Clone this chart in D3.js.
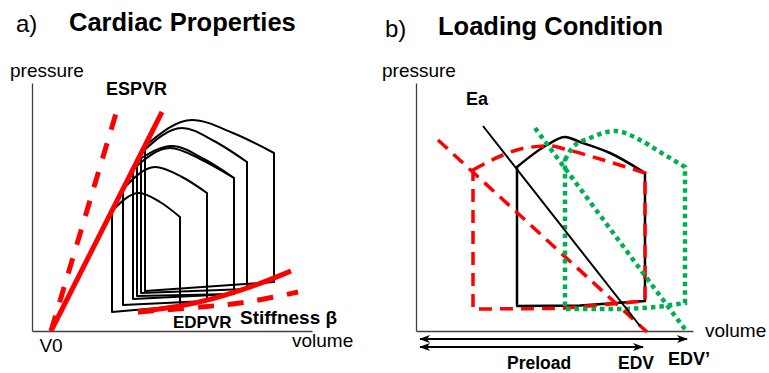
<!DOCTYPE html>
<html>
<head>
<meta charset="utf-8">
<script src="https://cdn.jsdelivr.net/npm/d3@7"></script>
<style>
  body { margin: 0; background: #fff; }
  svg { display: block; }
  text { font-family: "Liberation Sans", Arial, sans-serif; fill: #000; }
</style>
</head>
<body>
<script>
// ---- panel a: cardiac properties (volume / pressure in arbitrary units) ----
var V0 = 9.5;
var espvrSolidTop = [65, 109.5];
var espvrDashedTop = [42.5, 110.5];
var edpvrSolid = [[53, 9.5], [79, 13], [95.5, 17.5], [112.5, 23], [129.5, 30]];
var stiffnessDashed = [[53, 9.5], [79, 11.5], [99, 13.2], [114, 15.5], [133, 19.5]];

var loopESV = [40, 45.5, 50.5, 52.5, 54.5, 56.5];
var loopESP = [60, 71, 81, 85, 89, 92.5];
var loopPeak = [[53.5, 69], [61.5, 82], [69, 91.5], [70, 92.5], [75, 101.5], [80, 105.5]];
var loopShoulder = [[64, 64.5], [75, 77], [85, 85.5], [86, 86], [91, 95], [100.5, 99]];
var loopEDV = [74, 87.5, 101, 101, 107.5, 121];
var loopEDTop = [57, 69, 76.5, 76.5, 84.5, 89];
var loopBottomL = [9.5, 13, 16, 17.5, 19, 20];
var loopBottomR = [12.5, 15, 18.5, 18.5, 21, 24.5];

// ---- panel b: loading condition ----
var blackTop = [[50.5, 82], [65.5, 93], [74.5, 97], [82, 94.5], [97, 89], [114.5, 79]];
var blackBottom = [[114.5, 15], [82, 12.75], [50.5, 12.5]];
var redTop = [[28.5, 80.5], [43.5, 88], [54.5, 91.5], [67, 92.5], [76, 90.5], [98.5, 84], [114.5, 79]];
var redBottom = [[114.5, 15], [72, 11.25], [28.5, 11]];
var greenTop = [[74.5, 85.5], [78.5, 92], [87, 96.5], [99.5, 100], [112, 95.5], [122, 89.5], [134.5, 82]];
var greenBottom = [[134.5, 14], [120.5, 12], [105.5, 11], [74.5, 11]];
var eaBlack = [[33.5, 102.5], [112, 2.5]];
var eaRed = [[11, 95.5], [115.5, -0.5]];
var eaGreen = [[59.5, 101.5], [135.5, -0.5]];
var preloadEnds = [135.5, 113.5];   // EDV', EDV

const WIDTH = 769;
const HEIGHT = 373;
const RED = '#ff0000';
const GREEN = '#00b050';

var svg = d3.select('body').append('svg')
    .attr('width', WIDTH)
    .attr('height', HEIGHT);

var defs = svg.append('defs');
defs.append('marker')
    .attr('id', 'head')
    .attr('markerUnits', 'userSpaceOnUse')
    .attr('markerWidth', 11).attr('markerHeight', 8)
    .attr('refX', 10).attr('refY', 4)
    .attr('orient', 'auto-start-reverse')
    .append('path')
    .attr('d', 'M0,0L11,4L0,8L3,4Z')
    .attr('fill', '#000');

var xA = d3.scaleLinear().domain([0, 140]).range([32, 312]);
var yA = d3.scaleLinear().domain([0, 124]).range([331, 83]);
var xB = d3.scaleLinear().domain([0, 138.5]).range([416, 693]);
var yB = d3.scaleLinear().domain([0, 124]).range([331, 83]);

var drawAxes = function(x, y) {
    var gx = svg.append('g')
        .attr('transform', 'translate(0,' + y(0) + ')')
        .call(d3.axisBottom(x).tickValues([]).tickSizeOuter(0));
    var gy = svg.append('g')
        .attr('transform', 'translate(' + x(0) + ',0)')
        .call(d3.axisLeft(y).tickValues([]).tickSizeOuter(0));
    [gx, gy].forEach(function(g) {
        g.select('.domain').attr('stroke', '#404040').attr('stroke-width', 1.3);
    });
};

var lineOf = function(x, y, curve) {
    return d3.line()
        .x(function(d) { return x(d[0]); })
        .y(function(d) { return y(d[1]); })
        .curve(curve || d3.curveLinear);
};

// top edge smooth, sides and bottom straight, closed back up the ESV side
var loopPath = function(x, y, top, bottom) {
    var arc = lineOf(x, y, d3.curveMonotoneX)(top);
    var rest = lineOf(x, y)(bottom).replace('M', 'L');
    return arc + rest + 'Z';
};

var label = function(txt, px, py, size, bold, anchor) {
    svg.append('text')
        .attr('x', px).attr('y', py)
        .attr('font-size', size)
        .attr('font-weight', bold ? 'bold' : 'normal')
        .attr('text-anchor', anchor || 'start')
        .text(txt);
};

// ================= panel a =================
drawAxes(xA, yA);

var gLoops = svg.append('g');
loopESV.forEach(function(esv, i) {
    var top = [[esv, loopESP[i]], loopPeak[i], loopShoulder[i], [loopEDV[i], loopEDTop[i]]];
    var bottom = [[loopEDV[i], loopBottomR[i]], [esv, loopBottomL[i]]];
    gLoops.append('path')
        .attr('d', loopPath(xA, yA, top, bottom))
        .attr('fill', 'none')
        .attr('stroke', '#000')
        .attr('stroke-width', 2)
        .attr('stroke-linejoin', 'round');
});

svg.append('path')
    .attr('d', lineOf(xA, yA)([[V0, 0], espvrDashedTop]))
    .attr('fill', 'none').attr('stroke', RED).attr('stroke-width', 5)
    .attr('stroke-dasharray', '16,14');
svg.append('path')
    .attr('d', lineOf(xA, yA)([[V0, 0], espvrSolidTop]))
    .attr('fill', 'none').attr('stroke', RED).attr('stroke-width', 5);
svg.append('path')
    .attr('d', lineOf(xA, yA, d3.curveBasis)(stiffnessDashed))
    .attr('fill', 'none').attr('stroke', RED).attr('stroke-width', 5)
    .attr('stroke-dasharray', '16,14');
svg.append('path')
    .attr('d', lineOf(xA, yA, d3.curveBasis)(edpvrSolid))
    .attr('fill', 'none').attr('stroke', RED).attr('stroke-width', 5);

label('a)', 16, 32, 24, false);
label('Cardiac Properties', 69, 31, 25.5, true);
label('pressure', 10, 77, 19, false);
label('ESPVR', 106, 95, 18, true);
label('V0', xA(V0), 352, 19, false, 'middle');
label('volume', 292, 347, 19, false);
label('EDPVR', 173, 328, 17, true);
label('Stiffness β', 240, 324, 19, true);

// ================= panel b =================
drawAxes(xB, yB);

svg.append('path')
    .attr('d', loopPath(xB, yB, blackTop, blackBottom))
    .attr('fill', 'none').attr('stroke', '#000').attr('stroke-width', 2.5)
    .attr('stroke-linejoin', 'round');
svg.append('path')
    .attr('d', loopPath(xB, yB, redTop, redBottom))
    .attr('fill', 'none').attr('stroke', RED).attr('stroke-width', 3.5)
    .attr('stroke-dasharray', '13,8');
svg.append('path')
    .attr('d', lineOf(xB, yB)(eaRed))
    .attr('fill', 'none').attr('stroke', RED).attr('stroke-width', 3.5)
    .attr('stroke-dasharray', '13,8');
svg.append('path')
    .attr('d', loopPath(xB, yB, greenTop, greenBottom))
    .attr('fill', 'none').attr('stroke', GREEN).attr('stroke-width', 4.5)
    .attr('stroke-dasharray', '4.5,4');
svg.append('path')
    .attr('d', lineOf(xB, yB)(eaGreen))
    .attr('fill', 'none').attr('stroke', GREEN).attr('stroke-width', 4.5)
    .attr('stroke-dasharray', '4.5,4');
svg.append('path')
    .attr('d', lineOf(xB, yB)(eaBlack))
    .attr('fill', 'none').attr('stroke', '#000').attr('stroke-width', 2);

preloadEnds.forEach(function(v, i) {
    var py = yB(0) + 8 + i * 8;
    svg.append('line')
        .attr('x1', xB(2)).attr('x2', xB(v))
        .attr('y1', py).attr('y2', py)
        .attr('stroke', '#000').attr('stroke-width', 2)
        .attr('marker-start', 'url(#head)')
        .attr('marker-end', 'url(#head)');
});

label('b)', 385, 37, 24, false);
label('Loading Condition', 438, 35, 25.5, true);
label('pressure', 382, 77, 19, false);
label('Ea', 466, 105, 18, true);
label('volume', 705, 337, 19, false);
label('EDV\u2019', 668, 365, 18, true);
label('Preload', 507, 369, 17.5, true);
label('EDV', 618, 369, 17.5, true);
</script>
</body>
</html>
